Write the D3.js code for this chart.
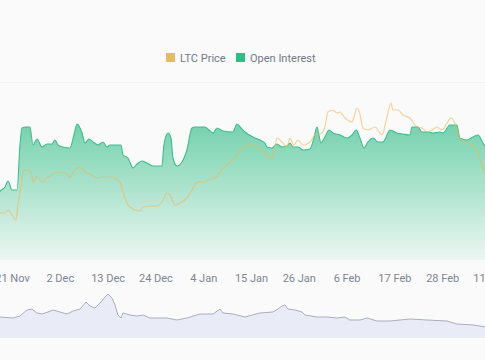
<!DOCTYPE html>
<html><head><meta charset="utf-8">
<script src="https://cdn.jsdelivr.net/npm/d3@7"></script>
<style>
body{margin:0;background:#fafafa;}
svg{display:block;font-family:Roboto,"Noto Sans",sans-serif;}
</style>
</head><body>
<svg id="c" width="485" height="360"></svg>
<script>
// ---- data ----
const seriesNames = ["LTC Price", "Open Interest"];
const tickDates = ["11-21T00","12-02T00","12-13T00","12-24T00","01-04T00","01-15T00","01-26T00","02-06T00","02-17T00","02-28T00","03-11T00"];

const oiDates = ["11-18T00","11-18T06","11-19T09","11-20T02","11-21T00","11-22T04","11-22T20","11-23T07","11-24T05","11-25T03","11-25T20","11-26T18","11-27T22","11-29T01","11-30T05","11-30T21","12-01T14","12-02T18","12-04T08","12-05T06","12-05T23","12-07T03","12-07T19","12-08T17","12-09T15","12-10T19","12-11T23","12-12T21","12-13T13","12-16T02","12-16T13","12-17T17","12-18T20","12-19T18","12-20T22","12-22T01","12-23T11","12-25T12","12-25T23","12-26T22","12-27T14","12-28T01","12-28T23","12-30T03","12-31T06","01-01T10","01-02T03","01-04T10","01-05T08","01-06T06","01-07T04","01-08T13","01-10T20","01-11T18","01-12T17","01-13T15","01-15T11","01-17T01","01-18T05","01-18T16","01-19T20","01-20T23","01-22T03","01-23T07","01-23T23","01-24T16","01-25T19","01-26T23","01-28T14","01-29T12","01-30T04","01-30T15","01-31T02","02-01T00","02-01T23","02-02T21","02-04T11","02-06T02","02-07T06","02-08T04","02-09T02","02-10T00","02-10T22","02-12T02","02-13T05","02-14T09","02-16T00","02-17T14","02-18T23","02-20T14","02-21T01","02-22T10","02-23T08","02-24T12","02-25T21","02-27T12","02-28T04","03-01T19","03-03T09","03-04T02","03-05T17","03-07T02","03-08T06","03-09T09","03-10T07","03-10T18"];
const oiValues = [230,233,242,254,236,236,326,360,362,362,326,338,322,328,328,336,326,322,320,346,368,350,330,338,332,326,332,322,326,326,306,300,280,288,294,290,284,284,326,350,340,300,284,292,316,360,362,362,356,350,360,354,352,368,360,352,342,336,330,322,320,328,322,324,330,322,322,316,318,340,362,346,330,342,356,350,346,340,346,356,340,320,332,340,332,332,356,350,348,346,362,362,352,352,350,352,350,366,366,340,336,342,346,330,318,312];

const priceDates = ["11-18T00","11-18T06","11-19T09","11-20T02","11-21T00","11-21T22","11-22T09","11-23T02","11-23T13","11-24T11","11-25T09","11-25T20","11-26T18","11-27T22","11-29T01","11-30T05","12-01T08","12-02T01","12-03T05","12-04T08","12-05T12","12-06T16","12-07T08","12-08T06","12-09T10","12-10T13","12-11T23","12-14T06","12-15T09","12-15T20","12-16T13","12-17T17","12-19T07","12-20T11","12-21T03","12-22T18","12-24T09","12-25T12","12-26T16","12-27T09","12-28T12","12-29T16","12-31T06","01-01T10","01-02T19","01-04T10","01-05T02","01-06T17","01-08T08","01-09T11","01-10T20","01-12T11","01-13T15","01-15T05","01-16T14","01-17T18","01-18T22","01-19T20","01-20T12","01-20T23","01-22T03","01-23T07","01-23T23","01-24T21","01-25T19","01-26T23","01-28T14","01-29T17","01-31T08","02-01T00","02-01T17","02-02T21","02-03T19","02-04T11","02-05T15","02-07T06","02-08T09","02-09T02","02-09T18","02-10T22","02-12T13","02-14T03","02-15T07","02-16T05","02-16T16","02-17T20","02-18T23","02-20T14","02-22T05","02-23T08","02-24T12","02-25T15","02-26T19","02-27T23","03-01T02","03-02T00","03-02T22","03-04T02","03-05T17","03-07T02","03-08T06","03-09T04","03-10T02","03-10T18"];
const priceValues = [82.5,82.5,82.5,84,81.5,79,86.5,96.5,103.5,104,103,98,100.5,98,100,101.5,103,102.5,102.5,100.5,104,105.5,104,102.5,101.5,100,100.5,100.5,99,98,93,86.5,84,83.5,85.5,86,86,88,92.5,91.5,86.5,87.5,90,94,98,98,99,100,104,106.5,109,113.5,116,117,115,113,110.5,110,115.5,120,118,115.5,120,116.5,119,116.5,118,121.5,122.5,125.5,133,134,132.5,133,130,128,135,132,125,124,125.5,121.5,130.5,137.5,134,134,131.5,130,125.5,125,123,124,125.5,124,127.5,130,127.5,120,117.5,116.5,112.5,106.5,100.5,96];

const navDates = ["11-18T00","11-18T06","11-21T06","11-22T20","11-24T11","11-25T14","11-26T18","11-27T22","11-29T07","11-30T10","12-02T01","12-03T16","12-05T01","12-06T16","12-08T01","12-08T23","12-10T02","12-11T06","12-12T10","12-13T02","12-14T00","12-14T17","12-15T09","12-16T02","12-16T13","12-18T04","12-19T18","12-21T03","12-22T18","12-25T01","12-26T16","12-28T23","12-31T06","01-03T06","01-06T06","01-07T21","01-08T13","01-10T20","01-13T15","01-17T01","01-20T01","01-21T05","01-22T03","01-22T20","01-23T12","01-25T03","01-26T18","01-27T10","01-30T04","02-01T12","02-03T19","02-05T15","02-06T18","02-09T02","02-10T17","02-13T00","02-16T00","02-20T14","02-24T12","03-01T02","03-03T09","03-07T02","03-10T02","03-10T18"];
const navValues = [42,42,40,44,56,58,50,48,52,56,52,48,54,58,72,64,60,70,82,88,80,66,46,40,50,46,44,46,40,40,40,36,40,48,48,58,50,48,42,50,52,58,64,66,58,56,52,46,42,42,40,42,36,36,40,34,34,38,36,34,28,26,22,22];

// ---- helpers ----
const parse = d3.utcParse("%Y-%m-%dT%H");
const toDate = s => parse((+s.slice(0,2) >= 11 ? "2024-" : "2025-") + s);
const oi = oiDates.map((d,i) => ({date: toDate(d), v: oiValues[i]}));
const price = priceDates.map((d,i) => ({date: toDate(d), v: priceValues[i]}));
const nav = navDates.map((d,i) => ({date: toDate(d), v: navValues[i]}));

const W = 485, H = 360;
const svg = d3.select("#c");
svg.append("rect").attr("width", W).attr("height", H).attr("fill", "#fafafa");

const x = d3.scaleUtc().domain([toDate("11-21T00"), toDate("03-11T00")]).range([12, 490]);
const yOI = d3.scaleLinear().domain([100, 420]).range([258, 98]);
const yP = d3.scaleLinear().domain([60, 140]).range([258, 98]);
const yN = d3.scaleLinear().domain([0, 96]).range([338, 290]);

const defs = svg.append("defs");
const grad = defs.append("linearGradient").attr("id", "g").attr("gradientUnits", "userSpaceOnUse")
  .attr("x1", 0).attr("x2", 0).attr("y1", yOI(370)).attr("y2", 262);
grad.append("stop").attr("offset", "0%").attr("stop-color", "#2ebd85").attr("stop-opacity", 0.66);
grad.append("stop").attr("offset", "100%").attr("stop-color", "#2ebd85").attr("stop-opacity", 0.06);
defs.append("clipPath").attr("id", "clip").append("rect").attr("x", 0).attr("y", 85).attr("width", W).attr("height", 175);

// faint panel separator
svg.append("line").attr("x1", 0).attr("x2", W).attr("y1", 82.5).attr("y2", 82.5).attr("stroke", "#f1f2f4");

// ---- legend ----
const legColors = ["#e6bd5c", "#2ebd85"];
const legX = [166, 236];
const leg = svg.append("g");
seriesNames.forEach((n, i) => {
  leg.append("rect").attr("x", legX[i]).attr("y", 53).attr("width", 9).attr("height", 9).attr("fill", legColors[i]);
  leg.append("text").attr("x", legX[i] + 14).attr("y", 61.5).attr("font-size", 11).attr("fill", "#707a8a").text(n);
});

// ---- main chart ----
const main = svg.append("g").attr("clip-path", "url(#clip)");
const curve = d3.curveMonotoneX;
main.append("path").datum(oi).attr("fill", "url(#g)")
  .attr("d", d3.area().x(d => x(d.date)).y0(260).y1(d => yOI(d.v)).curve(curve));
main.append("path").datum(oi).attr("fill", "none").attr("stroke", "#3cbf8b").attr("stroke-width", 1.1)
  .attr("d", d3.line().x(d => x(d.date)).y(d => yOI(d.v)).curve(curve));
main.append("path").datum(price).attr("fill", "none").attr("stroke", "#eeb955").attr("stroke-opacity", 0.6).attr("stroke-width", 1.2)
  .attr("d", d3.line().x(d => x(d.date)).y(d => yP(d.v)).curve(curve));

// ---- x axis ----
const ax = svg.append("g").attr("transform", "translate(0,272)")
  .call(d3.axisBottom(x).tickValues(tickDates.map(toDate)).tickFormat(d3.utcFormat("%-d %b")).tickSize(0).tickPadding(2));
ax.select(".domain").remove();
ax.selectAll("text").attr("font-size", 11).attr("fill", "#7d8594").attr("font-family", "Roboto,'Noto Sans',sans-serif");

// ---- navigator ----
svg.append("path").datum(nav).attr("fill", "#e9ebf7")
  .attr("d", d3.area().x(d => x(d.date)).y0(yN(0)).y1(d => yN(d.v)));
svg.append("path").datum(nav).attr("fill", "none").attr("stroke", "#a9afc0").attr("stroke-width", 1)
  .attr("d", d3.line().x(d => x(d.date)).y(d => yN(d.v)));
</script>
</body></html>
